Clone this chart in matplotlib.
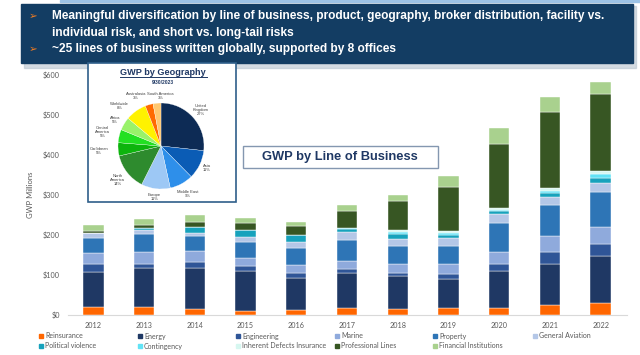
import matplotlib.pyplot as plt
from matplotlib.patches import Rectangle
import numpy as np

W, H = 640, 355

# --- data: GWP by line of business ($M) ---
years = [2012, 2013, 2014, 2015, 2016, 2017, 2018, 2019, 2020, 2021, 2022]
reinsurance = [21, 21, 16, 11, 13, 17, 16, 17, 18, 24, 29]
energy = [85, 95, 101, 99, 78, 88, 82, 72, 92, 104, 118]
engineering = [20, 12, 15, 11, 13, 10, 7, 12, 18, 30, 31]
marine = [28, 28, 27, 22, 21, 19, 21, 25, 30, 38, 42]
property_ = [39, 45, 37, 40, 41, 53, 46, 47, 71, 79, 87]
general_aviation = [11, 10, 8, 12, 17, 19, 18, 19, 23, 19, 22]
political_violence = [1, 7, 16, 16, 17, 9, 11, 8, 7, 11, 13]
contingency = [0, 0, 0, 0, 0, 1, 5, 4, 3, 5, 10]
inherent_defects = [0, 0, 0, 0, 0, 0, 5, 5, 5, 7, 8]
professional_lines = [5, 6, 12, 18, 22, 44, 72, 109, 159, 190, 190]
financial_institutions = [15, 16, 17, 14, 10, 14, 17, 29, 40, 36, 30]

series_names = ['Reinsurance', 'Energy', 'Engineering', 'Marine', 'Property',
                'General Aviation', 'Political violence', 'Contingency',
                'Inherent Defects Insurance', 'Professional Lines',
                'Financial Institutions']
series_colors = ['#FF6600', '#1F3864', '#2F5597', '#8FAADC', '#2E75B6',
                 '#B4C7E7', '#17A2BC', '#62E3F5', '#D6F7F0', '#375623',
                 '#A9D18E']

# --- data: GWP by geography (%) ---
geo_names = ['United\nKingdom', 'Asia', 'Middle East', 'Europe', 'North\nAmerica',
             'Caribbean', 'Central\nAmerica', 'Africa', 'Worldwide',
             'Australasia', 'South America']
geo_pct = [27, 11, 9, 11, 14, 5, 5, 5, 8, 3, 3]
geo_colors = ['#0D2B55', '#0B5CB5', '#2E8FEA', '#9DC8F5', '#2E8B2E',
              '#0DB40D', '#22E022', '#99F26A', '#FFF200', '#FF6A00', '#FFC870']
geo_label_dist = [1.25, 1.18, 1.28, 1.2, 1.28, 1.45, 1.4, 1.25, 1.3, 1.2, 1.16]
geo_label_nudge = [(0, 0), (0, 0), (0, 0), (0, 0), (0, 0), (0, 0), (0, 0),
                   (0, -0.05), (-0.2, -0.13), (-0.25, 0), (0.1, 0)]

banner_lines = ['Meaningful diversification by line of business, product, geography, broker distribution, facility vs.',
                'individual risk, and short vs. long-tail risks',
                '~25 lines of business written globally, supported by 8 offices']


def fx(x):
    return x / W


def fy(y):
    return 1 - y / H


fig = plt.figure(figsize=(6.4, 3.55), dpi=100)
fig.patch.set_facecolor('white')

# top thin line + banner with shadow
fig.patches.append(Rectangle((fx(60), fy(2)), fx(580), 2 / H, transform=fig.transFigure,
                             color='#9DC3E6', zorder=0))
fig.patches.append(Rectangle((fx(24), fy(68)), fx(612), 62 / H, transform=fig.transFigure,
                             color='#B8C4CF', alpha=0.6, zorder=0))
fig.patches.append(Rectangle((fx(21), fy(63)), fx(612), 59 / H, transform=fig.transFigure,
                             color='#133D63', zorder=1))
for yy, txt, arrow in [(16, banner_lines[0], True), (33, banner_lines[1], False),
                       (49, banner_lines[2], True)]:
    if arrow:
        fig.text(fx(33), fy(yy), '\u27a2', color='#F07C22', fontsize=7.5,
                 family='DejaVu Sans', va='center', ha='center', zorder=3)
    fig.text(fx(52), fy(yy), txt, color='white', fontsize=8.6, weight='bold',
             family='Liberation Sans', va='center', ha='left', zorder=3)

# --- main stacked bar chart ---
ax = fig.add_axes([fx(68), fy(315), fx(627) - fx(68), fy(74.3) - fy(315)])
data = [reinsurance, energy, engineering, marine, property_, general_aviation,
        political_violence, contingency, inherent_defects, professional_lines,
        financial_institutions]
x = np.arange(len(years))
bottom = np.zeros(len(years))
for name, vals, col in zip(series_names, data, series_colors):
    ax.bar(x, vals, bottom=bottom, width=0.4, color=col, label=name,
           edgecolor='white', linewidth=0.3)
    bottom += np.array(vals)

ax.set_xlim(-0.5, 10.52)
ax.set_ylim(0, 600)
ax.set_yticks(range(0, 601, 100))
ax.set_yticklabels(['$%d' % v for v in range(0, 601, 100)])
ax.set_xticks(x)
ax.set_xticklabels([str(y) for y in years])
ax.tick_params(axis='both', length=0, labelsize=5.2, labelcolor='#595959')
ax.tick_params(axis='y', pad=6)
ax.tick_params(axis='x', pad=5)
for lab in ax.get_xticklabels() + ax.get_yticklabels():
    lab.set_family('Lato')
for s in ['left', 'right', 'top']:
    ax.spines[s].set_visible(False)
ax.spines['bottom'].set_color('#D9D9D9')
ax.spines['bottom'].set_linewidth(0.8)
ax.set_ylabel('GWP Millions', fontsize=5.5, color='#595959', family='Lato', labelpad=6)

# legend laid out in a 6-column grid, row by row
col_x = [41, 140, 238, 337, 435, 535]
row_y = [336, 346]
for i, (name, col) in enumerate(zip(series_names, series_colors)):
    cx = col_x[i % 6]
    cy = row_y[i // 6]
    fig.patches.append(Rectangle((fx(cx - 2), fy(cy + 2)), 4 / W, 4 / H,
                                 transform=fig.transFigure, color=col))
    fig.text(fx(cx + 4), fy(cy), name, fontsize=5, family='Lato', color='#595959',
             ha='left', va='center')

# "GWP by Line of Business" box
fig.patches.append(Rectangle((fx(243), fy(168)), fx(195), 22 / H, transform=fig.transFigure,
                             facecolor='white', edgecolor='#8497B0', linewidth=1, zorder=2))
fig.text(fx(340), fy(157), 'GWP by Line of Business', color='#1F3864', fontsize=9.3,
         weight='bold', family='Liberation Sans', ha='center', va='center', zorder=3)

# --- geography inset ---
fig.patches.append(Rectangle((fx(88), fy(202)), fx(148), 139 / H, transform=fig.transFigure,
                             facecolor='white', edgecolor='#2F5F8A', linewidth=1.2, zorder=2))
fig.text(fx(163), fy(72.5), 'GWP by Geography', color='#1F3864', fontsize=6.6,
         weight='bold', family='Liberation Sans', ha='center', va='center', zorder=3)
fig.lines.append(plt.Line2D([fx(120), fx(207)], [fy(77), fy(77)], transform=fig.transFigure,
                            color='#1F3864', linewidth=0.7, zorder=3))
fig.text(fx(163), fy(82), '9/30/2023', color='#1F3864', fontsize=3.6, weight='bold',
         family='Liberation Sans', ha='center', va='center', zorder=3)

pax = fig.add_axes([fx(118), fy(189), 86 / W, 86 / H], zorder=4)
wedges, _ = pax.pie(geo_pct, colors=geo_colors, startangle=90, counterclock=False,
                    wedgeprops={'edgecolor': 'white', 'linewidth': 0.2})
for w, name, pct, d, (nx, ny) in zip(wedges, geo_names, geo_pct, geo_label_dist,
                                     geo_label_nudge):
    ang = np.deg2rad((w.theta1 + w.theta2) / 2)
    pax.text(d * np.cos(ang) + nx, d * np.sin(ang) + ny, '%s\n%d%%' % (name, pct),
             fontsize=3.0, family='Liberation Sans', color='#404040', ha='center',
             va='center', linespacing=1.0, clip_on=False)
pax.set_xlim(-1, 1)
pax.set_ylim(-1, 1)

fig.savefig('out.png', dpi=100)
